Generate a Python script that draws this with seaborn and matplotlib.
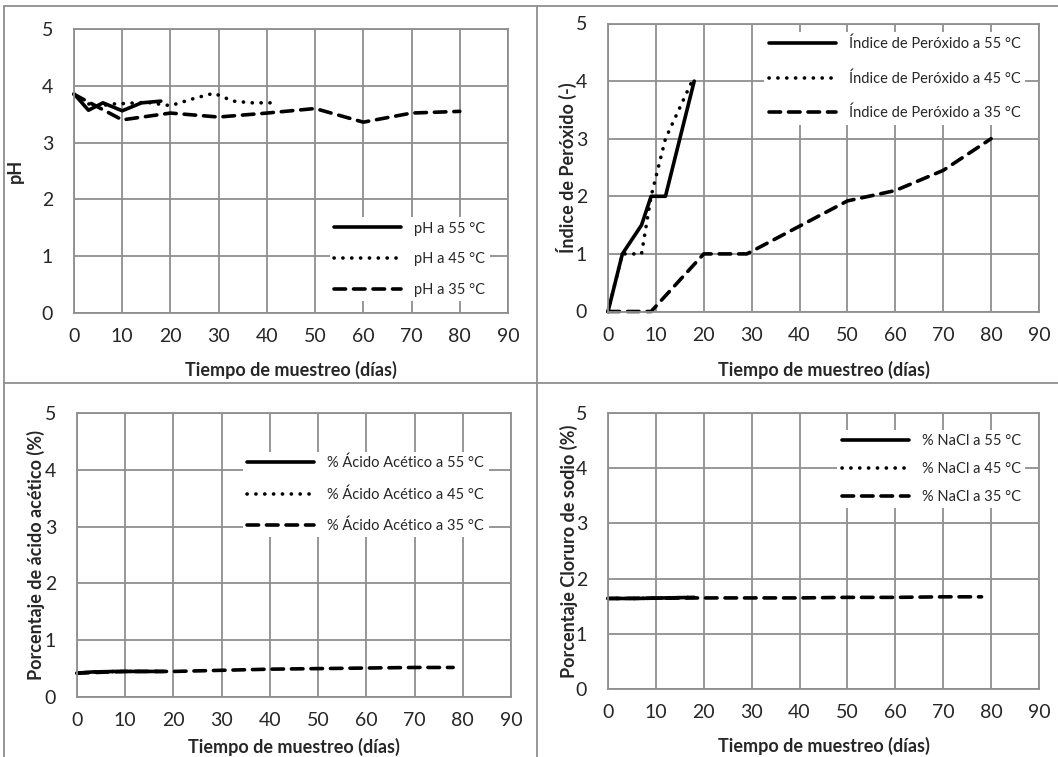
import matplotlib
matplotlib.use("Agg")
import matplotlib.pyplot as plt
import seaborn as sns
from matplotlib.lines import Line2D

# ---- data -------------------------------------------------------------
ph55_days = [0, 3, 6, 10, 14, 18]
ph55_vals = [3.86, 3.57, 3.70, 3.56, 3.70, 3.73]
ph45_days = [0, 4, 8, 11, 15, 20, 25, 29, 33, 37, 42]
ph45_vals = [3.85, 3.63, 3.68, 3.69, 3.71, 3.65, 3.78, 3.87, 3.73, 3.70, 3.70]
ph35_days = [0, 10, 20, 30, 40, 50, 60, 70, 80]
ph35_vals = [3.85, 3.40, 3.52, 3.45, 3.52, 3.60, 3.36, 3.52, 3.55]

per55_days = [0, 3, 7, 9, 12, 18]
per55_vals = [0, 1, 1.5, 2, 2, 4]
per45_days = [0, 3, 7, 9, 12, 18]
per45_vals = [0, 1, 1, 2, 3, 4.08]
per35_days = [0, 9, 20, 29, 50, 60, 70, 80]
per35_vals = [0, 0, 1, 1, 1.92, 2.1, 2.45, 3.0]

ac55_days = [0, 3, 8, 13, 18]
ac55_vals = [0.42, 0.44, 0.45, 0.45, 0.45]
ac45_days = [0, 3, 8, 13, 18]
ac45_vals = [0.42, 0.44, 0.45, 0.45, 0.45]
ac35_days = [0, 10, 20, 30, 40, 50, 60, 70, 78]
ac35_vals = [0.42, 0.45, 0.45, 0.47, 0.49, 0.50, 0.51, 0.52, 0.52]

na55_days = [0, 6, 12, 18]
na55_vals = [1.64, 1.64, 1.65, 1.66]
na45_days = [0, 6, 12, 18]
na45_vals = [1.64, 1.64, 1.65, 1.66]
na35_days = [0, 20, 30, 40, 50, 60, 70, 78]
na35_vals = [1.64, 1.65, 1.65, 1.65, 1.66, 1.66, 1.67, 1.67]

x_ticks = [0, 10, 20, 30, 40, 50, 60, 70, 80, 90]
y_ticks = [0, 1, 2, 3, 4, 5]
x_title = "Tiempo de muestreo (días)"

# ---- style ------------------------------------------------------------
sns.set_style("white")
plt.rcParams["font.family"] = ["Lato", "DejaVu Sans"]

GRID = "#8f8f8f"
SOLID = dict(linestyle="-", linewidth=2.6, solid_capstyle="round")
DOT = dict(linestyle=(0, (0.05, 2.4)), linewidth=2.6, dash_capstyle="round")
DASH = dict(linestyle=(0, (3.2, 2.2)), linewidth=2.6, dash_capstyle="round")

fig = plt.figure(figsize=(10.58, 7.57), dpi=100)
W, H = 1058, 757


def add_axes(l, r, t, b):
    return fig.add_axes([l / W, 1 - b / H, (r - l) / W, (b - t) / H])


def style(ax, ylabel, legend_kw, xpad=10, ylpad=0):
    ax.set_xlim(0, 90)
    ax.set_ylim(0, 5)
    ax.set_xticks(x_ticks)
    ax.set_yticks(y_ticks)
    ax.grid(True, color=GRID, linewidth=1.3)
    ax.set_axisbelow(True)
    for s in ax.spines.values():
        s.set_color(GRID)
        s.set_linewidth(1.3)
    ax.tick_params(axis="both", direction="out", length=5, width=1.3,
                   color=GRID, labelsize=14)
    ax.tick_params(axis="x", pad=6)
    ax.tick_params(axis="y", pad=10)
    ax.set_xlabel(x_title, fontsize=13, fontweight="bold", labelpad=xpad)
    ax.set_ylabel(ylabel, fontsize=13, fontweight="bold", labelpad=ylpad)
    opts = dict(frameon=True, fontsize=10.5, handlelength=4.6,
                handletextpad=0.9, labelspacing=1.15, borderpad=0.3)
    opts.update(legend_kw)
    leg = ax.legend(**opts)
    leg.get_frame().set_facecolor("white")
    leg.get_frame().set_edgecolor("none")
    leg.get_frame().set_alpha(1)


def draw(ax, days, vals, label, kw):
    sns.lineplot(x=days, y=vals, ax=ax, color="black", label=label,
                 clip_on=False, **kw)


# pH
ax1 = add_axes(74, 508, 29, 313)
draw(ax1, ph55_days, ph55_vals, "pH a 55 °C", SOLID)
draw(ax1, ph45_days, ph45_vals, "pH a 45 °C", DOT)
draw(ax1, ph35_days, ph35_vals, "pH a 35 °C", DASH)
style(ax1, "pH", dict(loc="lower right", bbox_to_anchor=(0.975, 0.015)),
      xpad=11, ylpad=13)

# Peroxide index
ax2 = add_axes(608, 1039, 23.5, 311.5)
draw(ax2, per55_days, per55_vals, "Índice de Peróxido a 55 °C", SOLID)
draw(ax2, per45_days, per45_vals, "Índice de Peróxido a 45 °C", DOT)
draw(ax2, per35_days, per35_vals, "Índice de Peróxido a 35 °C", DASH)
style(ax2, "Índice de Peróxido (-)",
      dict(loc="upper right", bbox_to_anchor=(0.985, 0.995), labelspacing=1.38),
      xpad=12, ylpad=-1)

# Acetic acid
ax3 = add_axes(77, 511, 413, 697)
draw(ax3, ac55_days, ac55_vals, "% Ácido Acético a 55 °C", SOLID)
draw(ax3, ac45_days, ac45_vals, "% Ácido Acético a 45 °C", DOT)
draw(ax3, ac35_days, ac35_vals, "% Ácido Acético a 35 °C", DASH)
style(ax3, "Porcentaje de ácido acético (%)",
      dict(loc="upper right", bbox_to_anchor=(0.965, 0.89)),
      xpad=6, ylpad=0)

# Sodium chloride
ax4 = add_axes(608, 1039, 413, 689)
draw(ax4, na55_days, na55_vals, "% NaCl a 55 °C", SOLID)
draw(ax4, na45_days, na45_vals, "% NaCl a 45 °C", DOT)
draw(ax4, na35_days, na35_vals, "% NaCl a 35 °C", DASH)
style(ax4, "Porcentaje Cloruro de sodio (%)",
      dict(loc="upper right", bbox_to_anchor=(0.985, 0.965), labelspacing=0.95),
      xpad=11, ylpad=-1.5)

# panel frames
frame = dict(color=GRID, linewidth=1.3, transform=fig.transFigure)
fig.add_artist(Line2D([4 / W, 1], [1 - 6 / H] * 2, **frame))
fig.add_artist(Line2D([4 / W] * 2, [0, 1 - 6 / H], **frame))
fig.add_artist(Line2D([537 / W] * 2, [0, 1 - 6 / H], **frame))
fig.add_artist(Line2D([4 / W, 1], [1 - 383 / H] * 2, **frame))

fig.savefig("out.png", dpi=100)
